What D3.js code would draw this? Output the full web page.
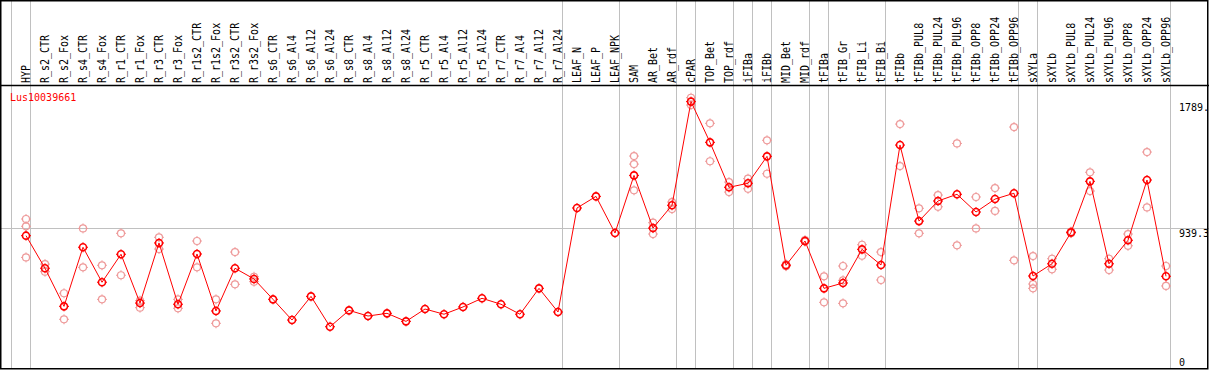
<!DOCTYPE html>
<html>
<head>
<meta charset="utf-8">
<script src="https://cdn.jsdelivr.net/npm/d3@7"></script>
<style>
  body { margin: 0; background: #fff; }
  svg { display: block; }
  text { font-family: "DejaVu Sans Mono", monospace; font-size: 10px; }
</style>
</head>
<body>
<svg width="1209" height="370"></svg>
<script>
var title = "Lus10039661";

var samples = ["HYP", "R_s2_CTR", "R_s2_Fox", "R_s4_CTR", "R_s4_Fox", "R_r1_CTR", "R_r1_Fox",
    "R_r3_CTR", "R_r3_Fox", "R_r1s2_CTR", "R_r1s2_Fox", "R_r3s2_CTR", "R_r3s2_Fox",
    "R_s6_CTR", "R_s6_Al4", "R_s6_Al12", "R_s6_Al24", "R_s8_CTR", "R_s8_Al4", "R_s8_Al12", "R_s8_Al24",
    "R_r5_CTR", "R_r5_Al4", "R_r5_Al12", "R_r5_Al24", "R_r7_CTR", "R_r7_Al4", "R_r7_Al12", "R_r7_Al24",
    "LEAF_N", "LEAF_P", "LEAF_NPK", "SAM", "AR_Bet", "AR_rdf", "cPAR", "TOP_Bet", "TOP_rdf",
    "iFIBa", "iFIBb", "MID_Bet", "MID_rdf", "tFIBa", "tFIB_Gr", "tFIB_Li", "tFIB_Bi", "tFIBb",
    "tFIBb_PUL8", "tFIBb_PUL24", "tFIBb_PUL96", "tFIBb_OPP8", "tFIBb_OPP24", "tFIBb_OPP96",
    "sXYLa", "sXYLb", "sXYLb_PUL8", "sXYLb_PUL24", "sXYLb_PUL96", "sXYLb_OPP8", "sXYLb_OPP24", "sXYLb_OPP96"];

// mean expression per sample
var means = [888, 669, 413, 810, 575, 763, 435, 839, 427, 765, 382, 669, 597,
    460, 321, 480, 276, 386, 348, 366, 312, 395, 360, 409, 467, 427, 360, 534, 375,
    1074, 1152, 906, 1293, 939, 1092, 1789, 1515, 1213, 1240, 1421, 689, 852,
    534, 570, 796, 691, 1497, 986, 1121, 1166, 1047, 1134, 1173,
    617, 699, 910, 1253, 699, 857, 1262, 615];

// replicate values per sample
var reps = [[1000, 951, 742], [697, 646], [501, 326], [937, 675], [689, 460], [904, 622], [451, 404],
    [877, 798], [460, 400], [852, 675], [460, 299], [778, 561], [612, 579],
    [], [], [], [], [], [], [], [], [], [], [], [], [], [], [], [],
    [], [], [], [1423, 1369, 1193], [975, 899], [1114, 1067], [1815, 1766], [1643, 1388], [1248, 1181],
    [1271, 1203], [1529, 1304], [695, 683], [858, 848],
    [615, 440], [684, 588, 433], [827, 753], [778, 590], [1638, 1356],
    [1072, 904], [1161, 1082], [1508, 823], [1148, 937], [1208, 1054], [1618, 722],
    [751, 563, 534], [733, 662], [915, 905], [1314, 1188], [733, 657], [899, 820], [1450, 1078], [684, 550]];

// group separators (index of first column after the line)
var groupBreaks = [0, 1, 29, 32, 35, 36, 38, 39, 40, 42, 43, 46, 53, 54, 61];

var yTicks = [1789, 939.3];

var svg = d3.select("svg"),
    width = +svg.attr("width"),
    height = +svg.attr("height"),
    headerH = 85.5,
    bottom = 368;

var x = d3.scaleLinear().domain([0, samples.length - 1]).range([26, 26 + 19 * (samples.length - 1)]);
var y = d3.scaleLinear().domain([0, 1789]).range([367.8, 101.6]);

var grid = svg.append("g").attr("class", "grid");

// vertical group lines
grid.selectAll("line.v")
    .data(groupBreaks)
    .enter().append("line")
    .attr("class", "v")
    .attr("x1", function(d) { return Math.round(x(d) - 15) + 0.5; })
    .attr("x2", function(d) { return Math.round(x(d) - 15) + 0.5; })
    .attr("y1", 0)
    .attr("y2", bottom)
    .attr("stroke", "#c0c0c0")
    .attr("stroke-width", 1);

// horizontal line at 939.3
grid.append("line")
    .attr("x1", 0).attr("x2", width)
    .attr("y1", Math.round(y(939.3)) + 0.5)
    .attr("y2", Math.round(y(939.3)) + 0.5)
    .attr("stroke", "#c0c0c0");

// header labels
svg.append("g").selectAll("text")
    .data(samples)
    .enter().append("text")
    .attr("transform", function(d, i) { return "translate(" + (x(i) + 3.5) + "," + 83 + ") rotate(-90) scale(1,1.15)"; })
    .attr("fill", "#000")
    .text(function(d) { return d; });

// header separator and frame
svg.append("line")
    .attr("x1", 0).attr("x2", width)
    .attr("y1", headerH).attr("y2", headerH)
    .attr("stroke", "#000").attr("stroke-width", 1.5);

svg.append("rect")
    .attr("x", 0.75).attr("y", 0.75)
    .attr("width", width - 2).attr("height", bottom)
    .attr("fill", "none")
    .attr("stroke", "#000").attr("stroke-width", 1.5);

// title
svg.append("text")
    .attr("x", 10).attr("y", 101)
    .attr("fill", "#ff0000")
    .text(title);

// right value labels
var labels = svg.append("g").attr("clip-path", "url(#clipR)");
svg.append("clipPath").attr("id", "clipR")
    .append("rect").attr("x", 0).attr("y", 0).attr("width", width - 2).attr("height", height);

labels.selectAll("text.yl")
    .data(yTicks)
    .enter().append("text")
    .attr("class", "yl")
    .attr("x", 1179)
    .attr("y", function(d) { return y(d) + 9; })
    .text(function(d) { return d === 1789 ? "1789." : String(d); });

labels.append("text").attr("x", 1179).attr("y", 366).text("0");

function marker(g, cx, cy, color, sw) {
    g.append("circle")
        .attr("cx", cx).attr("cy", cy).attr("r", 3.5)
        .attr("fill", "none").attr("stroke", color).attr("stroke-width", sw);
    [[0, -1], [0, 1], [-1, 0], [1, 0]].forEach(function(d) {
        g.append("line")
            .attr("x1", cx + d[0] * 3.5).attr("y1", cy + d[1] * 3.5)
            .attr("x2", cx + d[0] * 5).attr("y2", cy + d[1] * 5)
            .attr("stroke", color).attr("stroke-width", 1);
    });
}

// replicates
var repG = svg.append("g").attr("class", "reps");
reps.forEach(function(r, i) {
    r.forEach(function(v) {
        marker(repG, x(i), y(v), "#ee9a9a", 1.2);
    });
});

// mean line
var line = d3.line()
    .x(function(d, i) { return x(i); })
    .y(function(d) { return y(d); });

svg.append("path")
    .datum(means)
    .attr("d", line)
    .attr("fill", "none")
    .attr("stroke", "#ff0000")
    .attr("stroke-width", 1);

var meanG = svg.append("g").attr("class", "means");
means.forEach(function(v, i) {
    marker(meanG, x(i), y(v), "#ff0000", 1.6);
});
</script>
</body>
</html>
